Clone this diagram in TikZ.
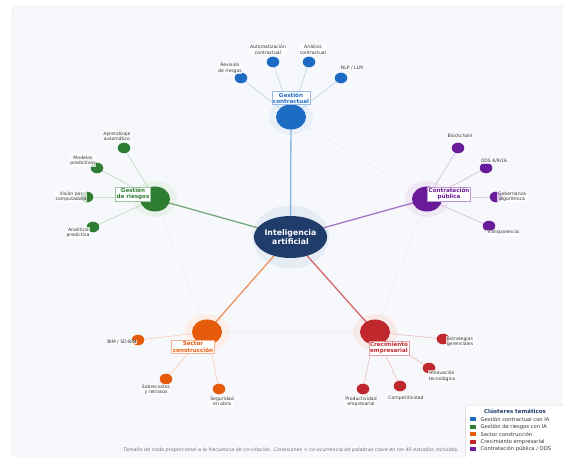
\documentclass[tikz,border=0pt]{standalone}
\usepackage{fontspec}
\setmainfont{DejaVu Sans}
\usetikzlibrary{shapes.geometric}
\pgfdeclarelayer{frame}\pgfdeclarelayer{halo}\pgfdeclarelayer{edges}
\pgfsetlayers{frame,halo,edges,main}
\definecolor{cblue}{HTML}{1E6BC4}
\definecolor{cgreen}{HTML}{2E7D32}
\definecolor{corange}{HTML}{E65A0C}
\definecolor{cred}{HTML}{C0282D}
\definecolor{cpurple}{HTML}{6A1B9A}
\definecolor{cnavy}{HTML}{1F3C6B}
\definecolor{framebg}{HTML}{F7F8FC}
\definecolor{txtgray}{HTML}{333333}
\definecolor{halo}{HTML}{E6ECF4}
\tikzset{
  hub/.style={ellipse, inner sep=0pt, minimum width=30pt, minimum height=25pt, fill=#1},
  leaf/.style={ellipse, inner sep=0pt, minimum width=12.6pt, minimum height=10.6pt, fill=#1},
  leaftxt/.style={font=\fontsize{4.6}{5.4}\selectfont, text=txtgray, align=center, inner sep=0.6pt, fill=white, fill opacity=0.75, text opacity=1},
  hubtxt/.style={draw=#1!45, fill=white, text=#1, font=\bfseries\fontsize{5.6}{6.1}\selectfont, align=center, inner sep=1.2pt, line width=0.5pt},
  hubedge/.style={draw=#1, line width=1.3pt},
  leafedge/.style={draw=#1, line width=0.7pt},
  faint/.style={draw=black!7, line width=0.5pt},
  legsq/.style={fill=#1, minimum width=6pt, minimum height=4pt, inner sep=0pt},
  legtxt/.style={font=\fontsize{5.2}{5.8}\selectfont, text=txtgray, anchor=west, inner sep=0pt}
}
\begin{document}
\begin{tikzpicture}[x=1pt,y=-1pt]
\useasboundingbox (0,0) rectangle (563,457);
\begin{pgfonlayer}{frame}
\fill[white] (0,0) rectangle (563,457);
\draw[draw=black!7, fill=framebg, rounded corners=6pt, line width=0.6pt] (12,6) rectangle (575,470);
\end{pgfonlayer}

% center
\node[ellipse, inner sep=0pt, minimum width=55pt, minimum height=42pt, fill=cnavy, text=white,
  font=\bfseries\fontsize{7.8}{8.4}\selectfont, align=center] (ai) at (290.5,237) {Inteligencia\\artificial};

% hubs
\node[hub=cblue] (hb) at (291,117) {};
\node[hub=cgreen] (hg) at (155,199) {};
\node[hub=cpurple] (hp) at (427,199) {};
\node[hub=corange] (ho) at (207,332) {};
\node[hub=cred] (hr) at (375,332) {};

\begin{pgfonlayer}{halo}
\fill[halo] (ai.center) ellipse [x radius=38.5pt, y radius=31.5pt];
\fill[cblue!10] (hb.center) ellipse [x radius=22pt, y radius=18pt];
\fill[cgreen!10] (hg.center) ellipse [x radius=22pt, y radius=18pt];
\fill[cpurple!10] (hp.center) ellipse [x radius=22pt, y radius=18pt];
\fill[corange!10] (ho.center) ellipse [x radius=22pt, y radius=18pt];
\fill[cred!10] (hr.center) ellipse [x radius=22pt, y radius=18pt];
\end{pgfonlayer}

% leaves
\node[leaf=cblue] (b1) at (241,78) {};
\node[leaf=cblue] (b2) at (273,62) {};
\node[leaf=cblue] (b3) at (309,62) {};
\node[leaf=cblue] (b4) at (341,78) {};
\node[leaf=cgreen] (g1) at (124,148) {};
\node[leaf=cgreen] (g2) at (97,168) {};
\node[leaf=cgreen] (g3) at (87,197) {};
\node[leaf=cgreen] (g4) at (93,227) {};
\node[leaf=cpurple] (p1) at (458,148) {};
\node[leaf=cpurple] (p2) at (486,168) {};
\node[leaf=cpurple] (p3) at (496,197) {};
\node[leaf=cpurple] (p4) at (489,226) {};
\node[leaf=corange] (o1) at (138,340) {};
\node[leaf=corange] (o2) at (166,379) {};
\node[leaf=corange] (o3) at (219,389) {};
\node[leaf=cred] (r1) at (443,339) {};
\node[leaf=cred] (r2) at (429,368) {};
\node[leaf=cred] (r3) at (400,386) {};
\node[leaf=cred] (r4) at (363,389) {};

\begin{pgfonlayer}{edges}
\draw[faint] (hb.center) -- (hg.center);
\draw[faint] (hb.center) -- (hp.center);
\draw[faint] (hg.center) -- (ho.center);
\draw[faint] (hp.center) -- (hr.center);
\draw[faint] (ho.center) -- (hr.center);
\draw[hubedge=cblue!50] (ai.center) -- (hb.center);
\draw[hubedge=cgreen!65] (ai.center) -- (hg.center);
\draw[hubedge=cpurple!60] (ai.center) -- (hp.center);
\draw[hubedge=corange!65] (ai.center) -- (ho.center);
\draw[hubedge=cred!70] (ai.center) -- (hr.center);
\foreach \l in {b1,b2,b3,b4} \draw[leafedge=cblue!28] (hb.center) -- (\l.center);
\foreach \l in {g1,g2,g3,g4} \draw[leafedge=cgreen!28] (hg.center) -- (\l.center);
\foreach \l in {p1,p2,p3,p4} \draw[leafedge=cpurple!28] (hp.center) -- (\l.center);
\foreach \l in {o1,o2,o3} \draw[leafedge=corange!28] (ho.center) -- (\l.center);
\foreach \l in {r1,r2,r3,r4} \draw[leafedge=cred!28] (hr.center) -- (\l.center);
\end{pgfonlayer}

% hub labels
\node[hubtxt=cblue] (lhb) at (291,98) {Gestión\\contractual};
\node[hubtxt=cgreen] (lhg) at (133,194) {Gestión\\de riesgos};
\node[hubtxt=cpurple] (lhp) at (449,194) {Contratación\\pública};
\node[hubtxt=corange] (lho) at (193,347) {Sector\\construcción};
\node[hubtxt=cred] (lhr) at (389,348) {Crecimiento\\empresarial};

% leaf labels
\node[leaftxt] (tb1) at (230,68) {Revisión\\de riesgos};
\node[leaftxt] (tb2) at (268,49.5) {Automatización\\contractual};
\node[leaftxt] (tb3) at (313,49.5) {Análisis\\contractual};
\node[leaftxt] (tb4) at (352,68) {NLP / LLM};
\node[leaftxt] (tg1) at (117,136.5) {Aprendizaje\\automático};
\node[leaftxt] (tg2) at (83,161) {Modelos\\predictivos};
\node[leaftxt] (tg3) at (71,196.5) {Visión por\\computadora};
\node[leaftxt] (tg4) at (78,232.5) {Analítica\\predictiva};
\node[leaftxt] (tp1) at (460,136) {Blockchain};
\node[leaftxt] (tp2) at (494,161) {ODS 8/9/16};
\node[leaftxt] (tp3) at (512,196.5) {Gobernanza\\algorítmica};
\node[leaftxt] (tp4) at (503,232.7) {Transparencia};
\node[leaftxt] (to1) at (122,342) {BIM / 5D-BIM};
\node[leaftxt] (to2) at (156,389.5) {Sobrecostos\\y retrasos};
\node[leaftxt] (to3) at (222,401.5) {Seguridad\\en obra};
\node[leaftxt] (tr1) at (460,341.5) {Estrategias\\gerenciales};
\node[leaftxt] (tr2) at (442,376) {Innovación\\tecnológica};
\node[leaftxt] (tr3) at (406,398) {Competitividad};
\node[leaftxt] (tr4) at (361,401.5) {Productividad\\empresarial};

% caption
\node[font=\itshape\fontsize{4.9}{5.5}\selectfont, text=black!55, inner sep=0pt] (cap) at (291,450)
  {Tamaño de nodo proporcional a la frecuencia de co-citación. Conexiones = co-ocurrencia de palabras clave en los 40 estudios incluidos.};

% legend
\node[draw=black!18, fill=white, rounded corners=3pt, line width=0.5pt, minimum width=110pt, minimum height=60pt, anchor=north west, inner sep=0pt] (leg) at (465,405) {};
\node[font=\bfseries\fontsize{5.5}{6}\selectfont, text=cnavy, inner sep=0pt] (legt) at (515,411) {Clústeres temáticos};
\node[legsq=cblue] (sq1) at (473,419) {};
\node[legtxt] (lt1) at (480.5,419) {Gestión contractual con IA};
\node[legsq=cgreen] (sq2) at (473,426.7) {};
\node[legtxt] (lt2) at (480.5,426.7) {Gestión de riesgos con IA};
\node[legsq=corange] (sq3) at (473,434.2) {};
\node[legtxt] (lt3) at (480.5,434.2) {Sector construcción};
\node[legsq=cred] (sq4) at (473,441.7) {};
\node[legtxt] (lt4) at (480.5,441.7) {Crecimiento empresarial};
\node[legsq=cpurple] (sq5) at (473,449.2) {};
\node[legtxt] (lt5) at (480.5,449.2) {Contratación pública / ODS};
\end{tikzpicture}
\end{document}
